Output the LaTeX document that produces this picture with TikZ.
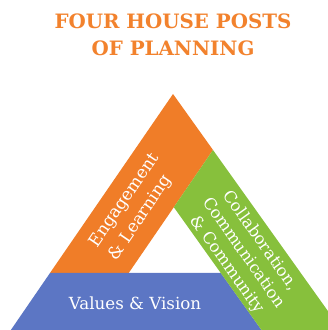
\documentclass[tikz,border=0pt]{standalone}
\usepackage{fontspec}
\setmainfont{DejaVu Serif}
\definecolor{postOrange}{RGB}{240,125,40}
\definecolor{postGreen}{RGB}{135,192,60}
\definecolor{postBlue}{RGB}{92,118,196}
\definecolor{titleOrange}{RGB}{242,130,45}

\begin{document}
\begin{tikzpicture}
  [x=1pt, y=1pt,
    BandText/.style={text=white, inner sep=0pt},
    TitleText/.style={text=titleOrange, font=\bfseries\fontsize{19.8}{27}\selectfont, align=center}]
  \useasboundingbox (0,0) rectangle (328,330);
  \clip (0,0) rectangle (328,330);
  % the three posts
  \fill[postOrange] (173,236) -- (213,180) -- (128.7,57) -- (50,57) -- cycle;
  \fill[postBlue] (50,57) -- (220.8,57) -- (268.6,-10) -- (4,-10) -- cycle;
  \fill[postGreen] (213,180) -- (348.6,-10) -- (268.6,-10) -- (173.8,122.8) -- cycle;
  % labels
  \node[TitleText] (title) at (173,295.5) {FOUR HOUSE POSTS\\OF PLANNING};
  \node[BandText, rotate=55.6, align=left, font=\fontsize{17}{23}\selectfont] (engage) at (134.4,123) {Engagement\\\& Learning};
  \node[BandText, rotate=-54.5, align=center, font=\fontsize{16.3}{20.5}\selectfont] (collab) at (243.5,77) {Collaboration,\\Communication\\\& Community};
  \node[BandText, font=\fontsize{16.7}{20}\selectfont] (values) at (135,27) {Values \& Vision};
\end{tikzpicture}
\end{document}
